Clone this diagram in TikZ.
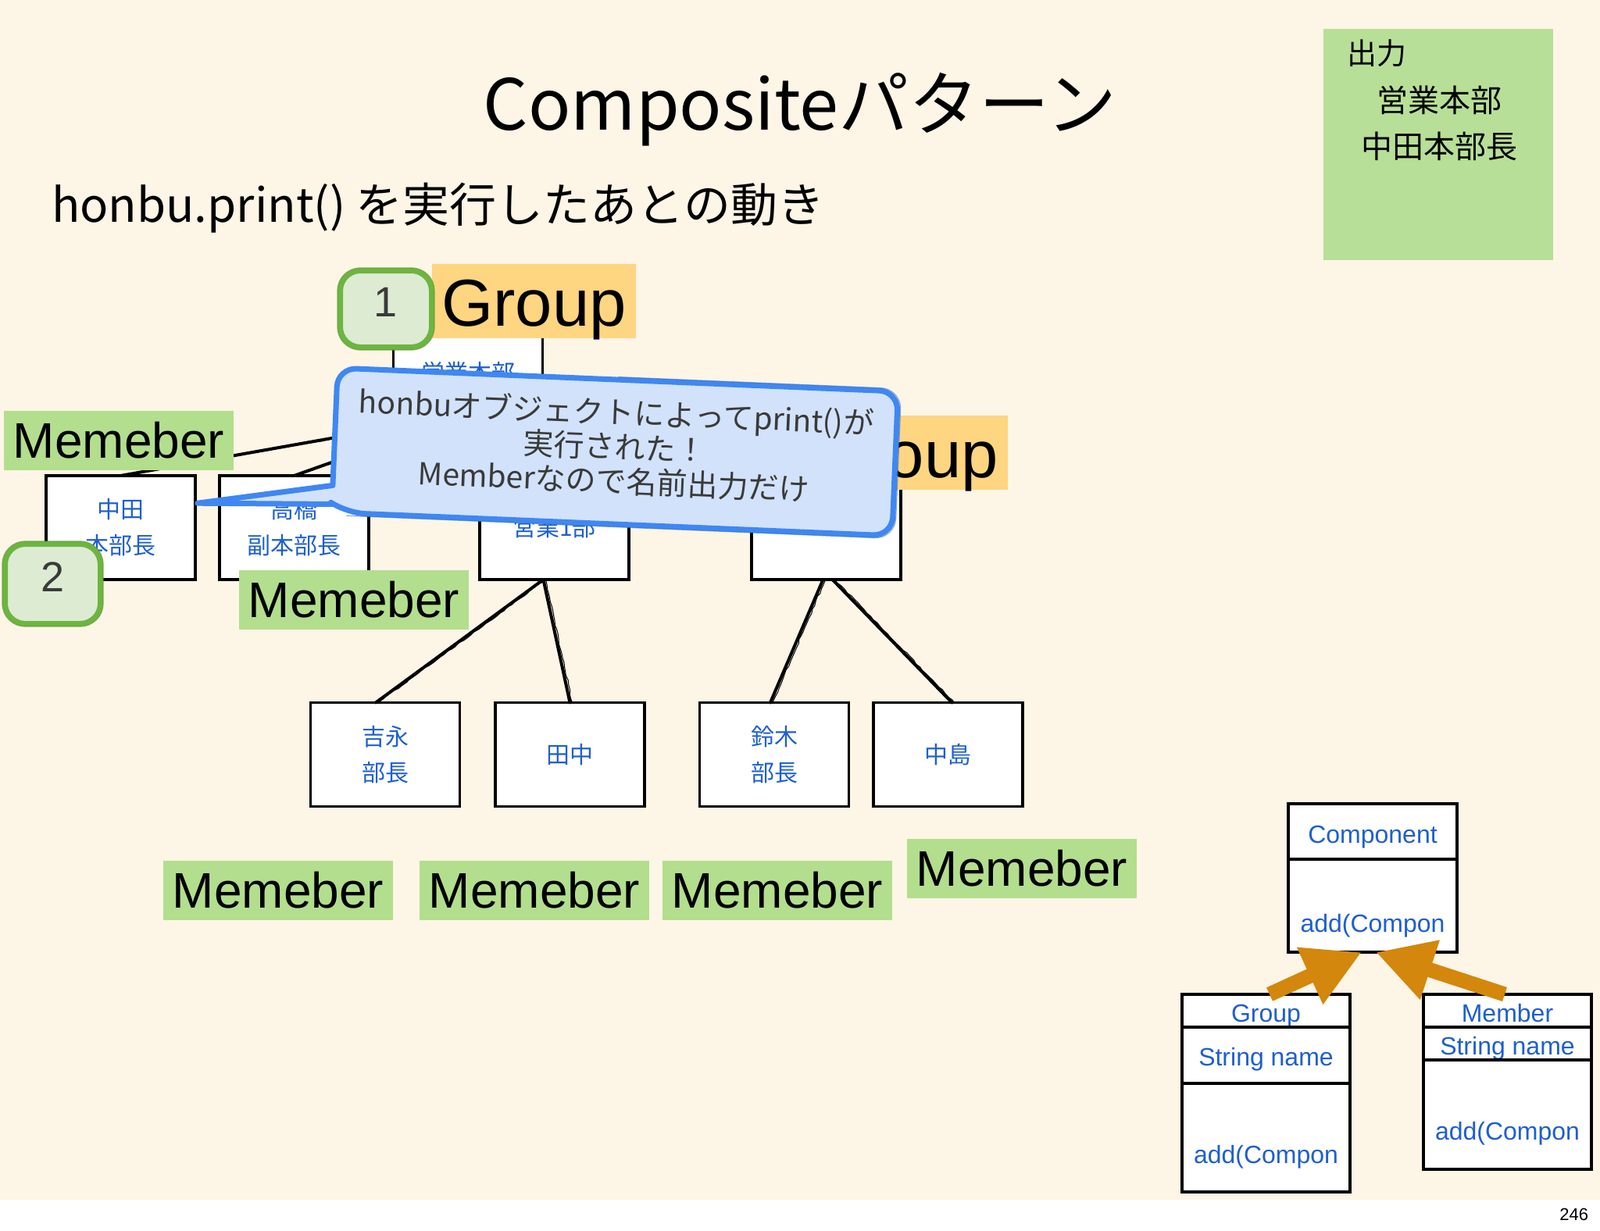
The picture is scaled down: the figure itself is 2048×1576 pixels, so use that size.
\documentclass[tikz,border=0pt]{standalone}
\usepackage{fontspec}
\setmainfont{Liberation Sans}
\newfontfamily\jp{Noto Sans CJK JP}
\usetikzlibrary{arrows.meta,decorations.pathmorphing}
\definecolor{bgc}{HTML}{FDF5E6}
\definecolor{labgreen}{HTML}{B3DE8E}
\definecolor{outgreen}{HTML}{B8DF98}
\definecolor{laborange}{HTML}{FED580}
\definecolor{boxblue}{HTML}{1E5FCF}
\definecolor{badgefill}{HTML}{DDEBD2}
\definecolor{badgeline}{HTML}{6DB540}
\definecolor{callfill}{HTML}{D2E2FA}
\definecolor{callline}{HTML}{3F87F2}
\definecolor{arroworange}{HTML}{D3870C}
\definecolor{darktext}{HTML}{3A3A3A}
\begin{document}
\begin{tikzpicture}[x=1pt,y=-1pt,
  every node/.style={inner sep=0pt, outer sep=0pt},
  memberbox/.style={draw=black, line width=3.5pt, fill=white, minimum width=191pt, minimum height=133pt, align=center, text=boxblue, font=\jp\fontsize{30}{46}\selectfont},
  memlabel/.style={fill=labgreen, minimum width=294pt, text height=60pt, text depth=16pt, anchor=north west, font=\fontsize{64}{64}\selectfont},
  grplabel/.style={fill=laborange, minimum width=261pt, text height=79pt, text depth=16pt, anchor=north west, font=\fontsize{85}{85}\selectfont},
  badge/.style={fill=badgefill, draw=badgeline, line width=7pt, rounded corners=26pt, text=darktext, font=\fontsize{54}{54}\selectfont, text height=38pt, text depth=18pt},
  badgering/.style={draw=badgeline!85!black, line width=1.2pt, rounded corners=29pt, opacity=0.7},
  conn/.style={line width=4pt, black, line cap=round},
  connrough/.style={line width=1pt, black, decorate, decoration={random steps, segment length=6pt, amplitude=1pt}},
  classpart/.style={draw=black, line width=3.5pt, fill=white, minimum width=216pt, text=boxblue, font=\fontsize{32}{32}\selectfont, anchor=north},
  fatarrow/.style={draw=arroworange, line width=19pt, -{Triangle[length=73pt,width=75pt]}, fill=arroworange}
]
\useasboundingbox (0,0) rectangle (2048,1576);
\fill[bgc] (0,0) rectangle (2048,1536);
\fill[white] (0,1536) rectangle (2048,1576);

% titles
\node[anchor=base, font=\jp\fontsize{90}{90}\selectfont] (title) at (1024,166) {Compositeパターン};
\node[anchor=base west, font=\jp\fontsize{60}{60}\selectfont] (sub) at (66,284) {honbu.print() を実行したあとの動き};

% output box
\node[fill=outgreen, minimum width=294pt, minimum height=296pt, anchor=north west] (outbox) at (1694,37) {};
\node[anchor=west, font=\jp\fontsize{38}{38}\selectfont] (outhead) at (1724,68) {出力};
\node[font=\jp\fontsize{40}{40}\selectfont] (out1) at (1842,128) {営業本部};
\node[font=\jp\fontsize{40}{40}\selectfont] (out2) at (1842,187) {中田本部長};

% tree boxes
\node[memberbox] (honbu) at (599,463.5) {};
\node[text=boxblue, font=\jp\fontsize{30}{30}\selectfont] (honbutext) at (599,477) {営業本部};
\node[memberbox] (nakata) at (154.5,675.5) {中田\\本部長};
\node[memberbox] (takahashi) at (376.5,675.5) {高橋\\副本部長};
\node[memberbox] (eigyo1) at (709.5,675.5) {営業1部};
\node[memberbox] (eigyo2) at (1057.5,675.5) {};
\node[memberbox] (yoshinaga) at (493,966) {吉永\\部長};
\node[memberbox] (tanaka) at (729.5,966) {田中};
\node[memberbox] (suzuki) at (991,966) {鈴木\\部長};
\node[memberbox] (nakajima) at (1213.5,966) {中島};

% connectors
\draw[conn] (honbu.south) -- (nakata.north);
\draw[conn] (honbu.south) -- (takahashi.north);
\draw[conn] ([xshift=-14pt]eigyo1.south) -- ([xshift=-12pt]yoshinaga.north);
\draw[conn] ([xshift=-14pt]eigyo1.south) -- (tanaka.north);
\draw[conn] ([xshift=-4pt]eigyo2.south) -- ([xshift=-5pt]suzuki.north);
\draw[conn] ([xshift=8pt]eigyo2.south) -- ([xshift=5pt]nakajima.north);
\draw[connrough] ([xshift=3pt]honbu.south) -- ([xshift=3pt]nakata.north);
\draw[connrough] ([xshift=3pt]honbu.south) -- ([xshift=3pt]takahashi.north);
\draw[connrough] ([xshift=-11pt]eigyo1.south) -- ([xshift=-9pt]yoshinaga.north);
\draw[connrough] ([xshift=-11pt]eigyo1.south) -- ([xshift=3pt]tanaka.north);
\draw[connrough] ([xshift=-1pt]eigyo2.south) -- ([xshift=-2pt]suzuki.north);
\draw[connrough] ([xshift=11pt]eigyo2.south) -- ([xshift=8pt]nakajima.north);

% labels
\node[grplabel] (grp1) at (553,338) {Group};
\node[grplabel] (grp2) at (1029,532) {Group};
\node[memlabel] (mem1) at (5,526) {Memeber};
\node[memlabel] (mem2) at (306,730) {Memeber};
\node[memlabel] (mem3) at (209,1102) {Memeber};
\node[memlabel] (mem4) at (537,1102) {Memeber};
\node[memlabel] (mem5) at (848,1102) {Memeber};
\node[memlabel] (mem6) at (1161,1074) {Memeber};

% callout
\begin{scope}[shift={(787,578.5)}, rotate=-2.4]
  \draw[fill=callfill, draw=callline, line width=7pt, line join=round]
    (0,-92.5) [rounded corners=24pt] -- (359,-92.5) -- (359,92.5) -- (-340,92.5)
    [sharp corners] -- (-357,82) -- (-531,88) -- (-359,58)
    [rounded corners=24pt] -- (-359,-92.5) -- cycle;
  \draw[draw=callline!80!black, line width=1.2pt, rounded corners=26pt, opacity=0.6]
    (0,-96) -- (363,-96) -- (363,96) -- (-340,96);
  \node[rotate=-2.4, align=center, text=darktext, font=\jp\fontsize{39}{44}\selectfont] (msg) at (0,-7)
    {honbuオブジェクトによってprint()が\\実行された！\\Memberなので名前出力だけ};
\end{scope}

% badges
\node[badge, minimum width=117pt, minimum height=98pt] (b1) at (494,395.5) {1};
\draw[badgering] ([xshift=-3.5pt,yshift=3.5pt]b1.north west) rectangle ([xshift=3.5pt,yshift=-3.5pt]b1.south east);
\node[badge, minimum width=122pt, minimum height=102pt] (b2) at (67.5,747.5) {2};
\draw[badgering] ([xshift=-3.5pt,yshift=3.5pt]b2.north west) rectangle ([xshift=3.5pt,yshift=-3.5pt]b2.south east);

% UML classes
\node[classpart, text height=50pt, text depth=21pt] (cname) at (1757,1029) {Component};
\node[classpart, text height=93pt, text depth=26pt] (cops) at (1757,1100) {add(Compon};
\node[classpart, minimum width=215pt, text height=35pt, text depth=7pt] (gname) at (1620.5,1273) {Group};
\node[classpart, minimum width=215pt, text height=49pt, text depth=23pt] (gattr) at (1620.5,1315) {String name};
\node[classpart, minimum width=215pt, text height=102pt, text depth=37pt] (gops) at (1620.5,1387) {add(Compon};
\node[classpart, minimum width=215pt, text height=35pt, text depth=7pt] (mname) at (1929.5,1273) {Member};
\node[classpart, minimum width=215pt, text height=35pt, text depth=7pt] (mattr) at (1929.5,1315) {String name};
\node[classpart, minimum width=215pt, text height=102pt, text depth=38pt] (mops) at (1929.5,1357) {add(Compon};

\draw[fatarrow] ([xshift=4.5pt]gname.north) -- ([xshift=-14pt]cops.south);
\draw[fatarrow] ([xshift=-3.5pt]mname.north) -- ([xshift=4pt]cops.south);

% page number
\node[anchor=base east, font=\fontsize{22}{22}\selectfont] (pagenum) at (2033,1562) {246};
\end{tikzpicture}
\end{document}
